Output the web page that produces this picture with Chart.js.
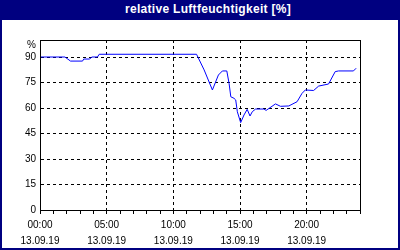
<!DOCTYPE html>
<html>
<head>
<meta charset="utf-8">
<script src="https://cdn.jsdelivr.net/npm/chart.js@4/dist/chart.umd.min.js"></script>
<style>
  html, body { margin: 0; padding: 0; background: #fff; }
  #wrap { position: relative; width: 400px; height: 250px; overflow: hidden; background: #fff; }
  #chart { position: absolute; left: 0; top: 0; }
  #title {
    position: absolute; left: 0; top: 0; width: 400px; height: 20px;
    background: #000080; color: #fff; font: bold 12px "Liberation Sans", Arial, sans-serif;
    letter-spacing: 0.3px; line-height: 19px; text-align: center; padding-left: 16px; box-sizing: border-box;
  }
  #frame { position: absolute; left: 0; top: 0; width: 400px; height: 250px; border: 2px solid #000080; box-sizing: border-box; pointer-events: none; }
</style>
</head>
<body>
<div id="wrap">
  <canvas id="chart" width="400" height="250"></canvas>
  <div id="title">relative Luftfeuchtigkeit [%]</div>
  <div id="frame"></div>
</div>
<script>
// hours since 00:00 on 13.09.19
const hours = [0, 1.87, 2.29, 3.19, 3.28, 3.73, 3.88, 4.31, 4.44, 11.74, 12.31, 12.93, 13.38, 13.68, 14.01, 14.18, 14.31, 14.55, 14.68, 14.8, 15.05, 15.3, 15.54, 15.75, 15.92, 16.17, 16.79, 16.96, 17.66, 18.04, 18.66, 19.28, 19.65, 19.9, 20.52, 20.9, 21.64, 22.14, 22.39, 23.51, 23.71];
const humidity = [90, 90, 87.6, 87.6, 88.8, 88.8, 90, 90, 91.6, 91.6, 82.4, 70.6, 79.4, 81.8, 81.8, 74.5, 66.6, 65.7, 64.7, 57.8, 51.4, 55.9, 59.2, 55.3, 57.8, 59.4, 59.4, 58.6, 62.4, 61, 61.2, 63.7, 68.6, 70.6, 70.3, 72.9, 74.1, 81.4, 81.8, 81.8, 83.4];
const yTicks = [0, 15, 30, 45, 60, 75, 90];
const unitLabel = '%';
const unitPos = 97;
const dateLabel = '13.09.19';

const tickFont = { family: '"Liberation Sans", Arial, sans-serif', size: 10 };
const pad = n => String(n).padStart(2, '0');

new Chart(document.getElementById('chart'), {
  type: 'line',
  data: {
    datasets: [{
      data: hours.map((h, i) => ({ x: h, y: humidity[i] })),
      borderColor: '#0000ff',
      borderWidth: 1,
      pointRadius: 0,
      tension: 0
    }]
  },
  options: {
    responsive: false,
    animation: false,
    layout: { padding: { left: 0, top: 40, right: 40, bottom: 0 } },
    plugins: { legend: { display: false }, tooltip: { enabled: false } },
    scales: {
      x: {
        type: 'linear',
        min: 0,
        max: 24,
        afterFit: s => { s.height = 40; },
        afterBuildTicks: s => { s.ticks = Array.from({ length: 25 }, (_, i) => ({ value: i })); },
        ticks: {
          color: '#000',
          font: { ...tickFont, lineHeight: 1.6 },
          autoSkip: false,
          maxRotation: 0,
          padding: 3,
          callback: v => (v % 5 === 0 && v < 24) ? [pad(v) + ':00', dateLabel] : ''
        },
        grid: {
          color: c => (c.tick && c.tick.value % 5 === 0 && c.tick.value > 0 && c.tick.value < 24) ? '#000' : 'rgba(0,0,0,0)',
          tickColor: '#000',
          tickLength: 4,
          tickBorderDash: [],
          lineWidth: 1
        },
        border: { color: '#000', width: 1, dash: [3, 3] }
      },
      y: {
        min: 0,
        max: 100,
        afterFit: s => { s.width = 40; },
        afterBuildTicks: s => { s.ticks = yTicks.concat([unitPos]).map(v => ({ value: v })); },
        ticks: {
          color: '#000',
          font: tickFont,
          padding: 4,
          callback: v => v === unitPos ? unitLabel : v
        },
        grid: {
          color: c => (c.tick && c.tick.value > 0 && c.tick.value !== unitPos) ? '#000' : 'rgba(0,0,0,0)',
          drawTicks: false,
          lineWidth: 1
        },
        border: { color: '#000', width: 1, dash: [3, 3] }
      }
    }
  },
  plugins: [{
    id: 'frameBox',
    afterDraw(chart) {
      const { ctx, chartArea: a } = chart;
      ctx.save();
      ctx.strokeStyle = '#000';
      ctx.lineWidth = 1;
      ctx.setLineDash([]);
      ctx.strokeRect(Math.round(a.left) + 0.5, Math.round(a.top) + 0.5, Math.round(a.right - a.left), Math.round(a.bottom - a.top));
      ctx.restore();
    }
  }]
});
</script>
</body>
</html>
